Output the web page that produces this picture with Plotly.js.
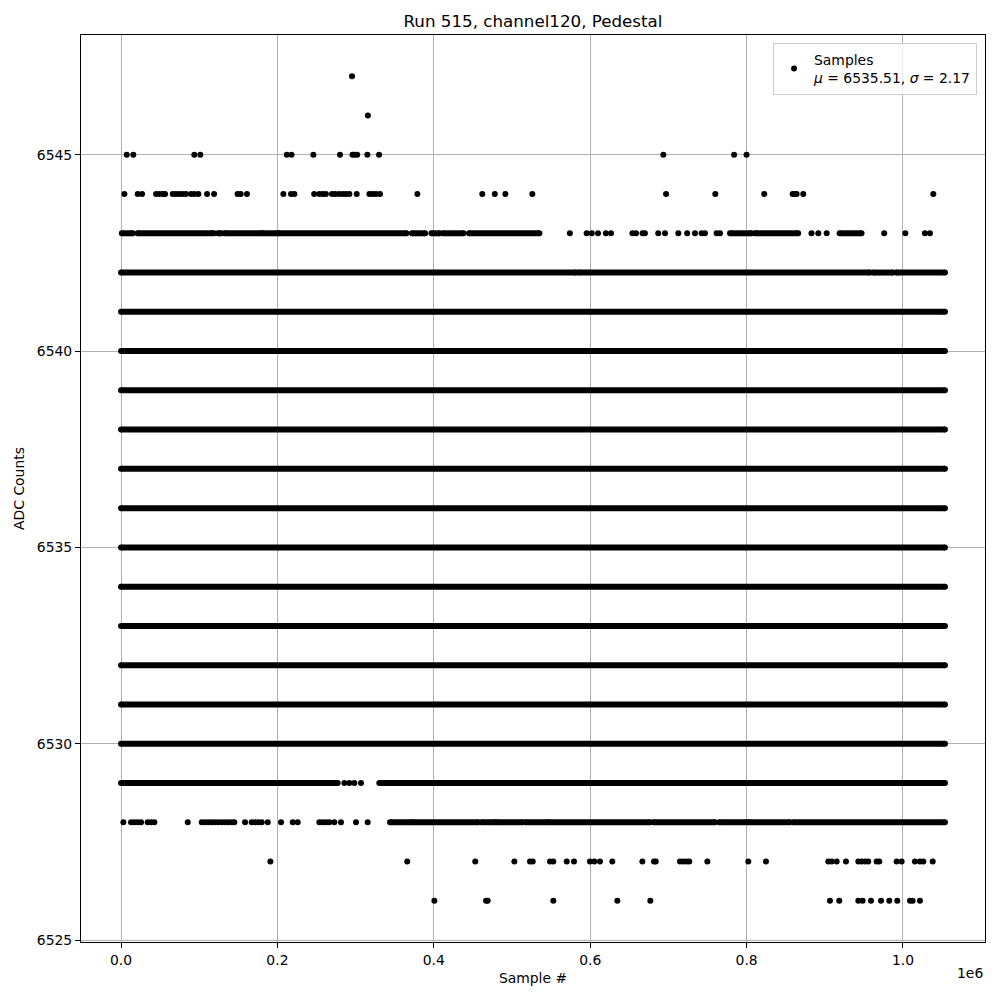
<!DOCTYPE html>
<html>
<head>
<meta charset="utf-8">
<script src="https://cdn.plot.ly/plotly-3.0.1.min.js"></script>
<style>html,body{margin:0;padding:0;background:#fff;}</style>
</head>
<body>
<div id="chart" style="width:1000px;height:1000px;"></div>
<script>
// ---- Tick labels ----
const xTickVals = [0, 200000, 400000, 600000, 800000, 1000000];
const xTickText = ['0.0', '0.2', '0.4', '0.6', '0.8', '1.0'];
const yTickVals = [6525, 6530, 6535, 6540, 6545];

// ---- Dense (continuous) bands: level, start sample, end sample ----
const bandLevel = [
  6543, 6543, 6543, 6543, 6543, 6543, 6543, 6543, 6543, 6543, 6543, 6543, 6543,
  6542, 6542, 6542, 6542,
  6541, 6540, 6539, 6538, 6537, 6536, 6535, 6534, 6533, 6532, 6531, 6530,
  6529, 6529,
  6528, 6528, 6528, 6528, 6528, 6528, 6528, 6528, 6528, 6528
];
const bandStart = [
  1000, 21300, 124000, 132000, 181000, 201000, 372000, 397000, 412000, 445000, 778800, 810700, 919000,
  0, 585000, 962000, 991000,
  0, 0, 0, 0, 0, 0, 0, 0, 0, 0, 0, 0,
  0, 330300,
  344000, 374000, 461000, 480000, 517500, 547700, 680700, 765000, 804300, 859700
];
const bandEnd = [
  15000, 117000, 128000, 179000, 200000, 365000, 389000, 408000, 438000, 535000, 806500, 866000, 947000,
  582000, 958000, 987000, 1053700,
  1053700, 1053700, 1053700, 1053700, 1053700, 1053700, 1053700, 1053700, 1053700, 1053700, 1053700, 1053700,
  277100, 1053700,
  372000, 457000, 478000, 514000, 545500, 676500, 759600, 802000, 855500, 1053700
];

// ---- Isolated samples per ADC level (sample #) ----
const x6547 = [295400];
const x6546 = [315700];
const x6545 = [7300, 15700, 93700, 101400, 212000, 218000, 246000, 280000, 296000, 299000, 302000,
  315000, 330000, 693500, 784000, 800000];
const x6544 = [4300, 21300, 26900, 44800, 49000, 53300, 56300, 66100, 70300, 74600, 78900, 83100,
  89500, 93800, 98900, 110000, 119000, 149000, 153000, 161000, 207600, 217400, 221700, 247000,
  253600, 257900, 262000, 269800, 274000, 279000, 283500, 287700, 292000, 301400, 317600, 321800,
  326000, 331200, 379000, 462000, 478000, 491500, 526000, 697000, 760000, 822600, 858900, 862000,
  864000, 872500, 1038800];
const x6543 = [119000, 574000, 595500, 602000, 610000, 620000, 626600, 654000, 658600, 667000,
  670000, 687000, 695700, 712700, 724000, 734000, 742500, 746800, 761700, 766000, 883000, 891700,
  902400, 976000, 1003000, 1028000, 1034500];
const x6529 = [285600, 292000, 298400, 306900];
const x6528 = [3000, 12800, 17000, 21300, 25600, 34100, 38400, 42600, 85300, 103200, 107400, 111700,
  116000, 120200, 124400, 128800, 133000, 137200, 141500, 144900, 158600, 167100, 171400, 175600,
  179900, 187600, 204600, 219600, 225900, 253600, 257900, 262100, 266400, 272800, 281300, 300500,
  315400];
const x6527 = [191000, 366000, 453000, 503000, 523000, 526500, 548600, 552800, 570000, 579300,
  599700, 605300, 612500, 628300, 666700, 681600, 683800, 714800, 719000, 723400, 726700, 749800,
  802200, 824800, 904500, 908800, 915200, 927100, 942900, 947100, 951400, 955600, 966300, 969700,
  991900, 998300, 1015300, 1021700, 1026000, 1038000];
const x6526 = [400700, 466800, 468900, 552800, 634700, 676900, 906600, 918500, 942900, 948400,
  959100, 971900, 982500, 992700, 1009000, 1012400, 1021700];

const sparseLevels = [6547, 6546, 6545, 6544, 6543, 6529, 6528, 6527, 6526];
const sparseXs = [x6547, x6546, x6545, x6544, x6543, x6529, x6528, x6527, x6526];

// ---- Build traces ----
const bx = [], by = [];
for (let i = 0; i < bandLevel.length; i++) {
  bx.push(bandStart[i], bandEnd[i], null);
  by.push(bandLevel[i], bandLevel[i], null);
}
const sx = [], sy = [];
sparseLevels.forEach((lv, i) => {
  sparseXs[i].forEach(x => { sx.push(x); sy.push(lv); });
});

const FONT = 'DejaVu Sans, Liberation Sans, sans-serif';

const bandTrace = {
  type: 'scatter', mode: 'lines+markers', x: bx, y: by,
  line: {color: 'black', width: 6}, marker: {color: 'black', size: 6},
  connectgaps: false, showlegend: false, hoverinfo: 'skip'
};
const sampleTrace = {
  type: 'scatter', mode: 'markers', x: sx, y: sy,
  marker: {color: 'black', size: 6},
  name: 'Samples<br><i>μ</i> = 6535.51, <i>σ</i> = 2.17',
  showlegend: true
};

const axisCommon = {
  ticks: 'outside', ticklen: 5, tickwidth: 1, tickcolor: 'black',
  showgrid: true, gridcolor: '#b0b0b0', gridwidth: 1,
  zeroline: false, showline: true, mirror: true, linecolor: 'black', linewidth: 1,
  tickfont: {family: FONT, size: 13.9, color: 'black'}, automargin: false
};

const layout = {
  width: 1000, height: 1000,
  margin: {l: 81, r: 15, t: 35, b: 58},
  paper_bgcolor: 'white', plot_bgcolor: 'white',
  font: {family: FONT, size: 13.9, color: 'black'},
  title: {text: 'Run 515, channel120, Pedestal', font: {family: FONT, size: 16.7, color: 'black'},
    xref: 'paper', x: 0.5, xanchor: 'center', yref: 'container', y: 0.979, yanchor: 'middle'},
  xaxis: Object.assign({}, axisCommon, {
    range: [-51200, 1104900], tickmode: 'array', tickvals: xTickVals, ticktext: xTickText,
    title: {text: 'Sample #', font: {family: FONT, size: 13.9, color: 'black'}, standoff: 6}
  }),
  yaxis: Object.assign({}, axisCommon, {
    range: [6524.95, 6548.05], tickmode: 'array', tickvals: yTickVals,
    ticktext: yTickVals.map(String),
    title: {text: 'ADC Counts', font: {family: FONT, size: 13.9, color: 'black'}, standoff: 8}
  }),
  legend: {
    x: 0.9912, y: 0.9912, xanchor: 'right', yanchor: 'top',
    bgcolor: 'rgba(255,255,255,0.8)', bordercolor: '#cccccc', borderwidth: 1,
    font: {family: FONT, size: 13.9, color: 'black'}, tracegroupgap: 0, itemwidth: 30
  },
  annotations: [{
    text: '1e6', xref: 'paper', yref: 'paper', x: 1, y: -0.034, xanchor: 'right', yanchor: 'middle',
    showarrow: false, font: {family: FONT, size: 13.9, color: 'black'}
  }]
};

Plotly.newPlot('chart', [bandTrace, sampleTrace], layout, {displayModeBar: false, staticPlot: true});
</script>
</body>
</html>
